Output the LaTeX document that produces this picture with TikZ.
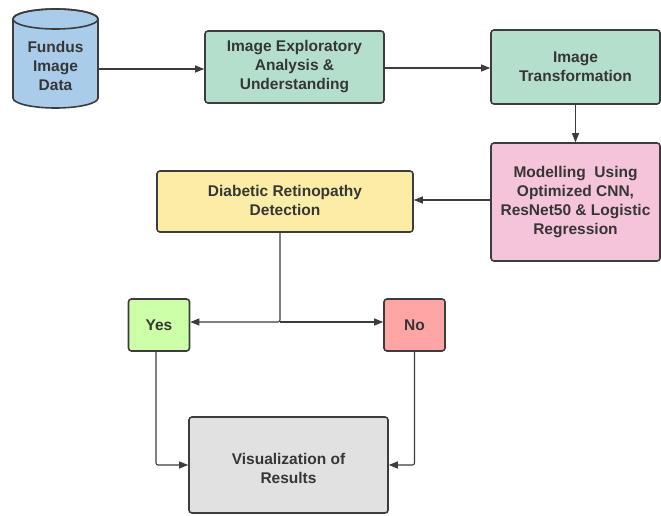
\documentclass[tikz,border=0pt]{standalone}
\usepackage{fontspec}
\setmainfont{Liberation Sans}
\usetikzlibrary{arrows.meta}
\definecolor{edge}{HTML}{3C3C3C}
\definecolor{txt}{HTML}{363636}
\definecolor{cblue}{HTML}{A9CCEA}
\definecolor{cgreen}{HTML}{B4DFCC}
\definecolor{cpink}{HTML}{F5C4DA}
\definecolor{cyellow}{HTML}{FCEDA6}
\definecolor{cyes}{HTML}{CCFFA8}
\definecolor{cno}{HTML}{FFA5A5}
\definecolor{cgray}{HTML}{E1E1E1}
\tikzset{
  box/.style={draw=edge, line width=1.6pt, rounded corners=3pt, align=center,
    text=txt, font=\fontsize{15.5}{19}\selectfont\bfseries, inner sep=0pt},
  lbl/.style={align=center, text=txt, font=\fontsize{15.5}{19}\selectfont\bfseries, inner sep=0pt},
  arr/.style={draw=edge, line width=1.1pt, -{Triangle[length=9pt,width=7pt]}},
}
\begin{document}
\begin{tikzpicture}[x=1pt,y=-1pt]
\useasboundingbox (0,0) rectangle (661,516);
% cylinder
\draw[draw=edge, line width=1.6pt, fill=cblue]
  (13,19) -- (13,98) arc[start angle=180, end angle=0, x radius=42.5, y radius=10]
  -- (98,19) arc[start angle=0, end angle=-180, x radius=42.5, y radius=10] -- cycle;
\draw[draw=edge, line width=1.6pt] (55.5,19) ellipse [x radius=42.5, y radius=10];
\node[minimum width=85pt, minimum height=99pt, inner sep=0pt] (data) at (55.5,58.5) {};
\node[lbl] (datatxt) at (55.5,66) {Fundus\\Image\\Data};
\node[box, fill=cgreen, minimum width=179pt, minimum height=72pt] (eda) at (294.5,67) {Image Exploratory\\Analysis \&\\Understanding};
\node[box, fill=cgreen, minimum width=169pt, minimum height=74pt] (trans) at (575.5,67) {Image\\Transformation};
\node[box, fill=cpink, minimum width=169pt, minimum height=118pt] (model) at (575.5,202) {Modelling\ \ Using\\Optimized CNN,\\ResNet50 \& Logistic\\Regression};
\node[box, fill=cyellow, minimum width=256pt, minimum height=61pt] (dr) at (285,201.5) {};
\node[lbl] (drtxt) at (285,200) {Diabetic Retinopathy\\Detection};
\node[box, fill=cyes, minimum width=61pt, minimum height=52pt] (yes) at (159,325) {Yes};
\node[box, fill=cno, minimum width=61pt, minimum height=52pt] (no) at (414.5,325) {No};
\node[box, fill=cgray, minimum width=199pt, minimum height=96pt] (vis) at (288.5,465) {};
\node[lbl] (vistxt) at (288.5,468.5) {Visualization of\\Results};
\draw[arr] (data.east |- 0,69) -- (eda.west |- 0,69);
\draw[arr] (eda.east |- 0,68) -- (trans.west |- 0,68);
\draw[arr] (trans.south) -- (model.north);
\draw[arr] (model.west |- 0,200) -- (dr.east |- 0,200);
\coordinate (split) at (280,322);
\draw[arr, rounded corners=2pt] (dr.south -| split) -- (split) -- (yes.east |- split);
\draw[arr] (split) -- (no.west |- split);
\draw[arr, rounded corners=2pt] (yes.south -| 156,0) |- (vis.west);
\draw[arr, rounded corners=2pt] (no.south) |- (vis.east);
\end{tikzpicture}
\end{document}
